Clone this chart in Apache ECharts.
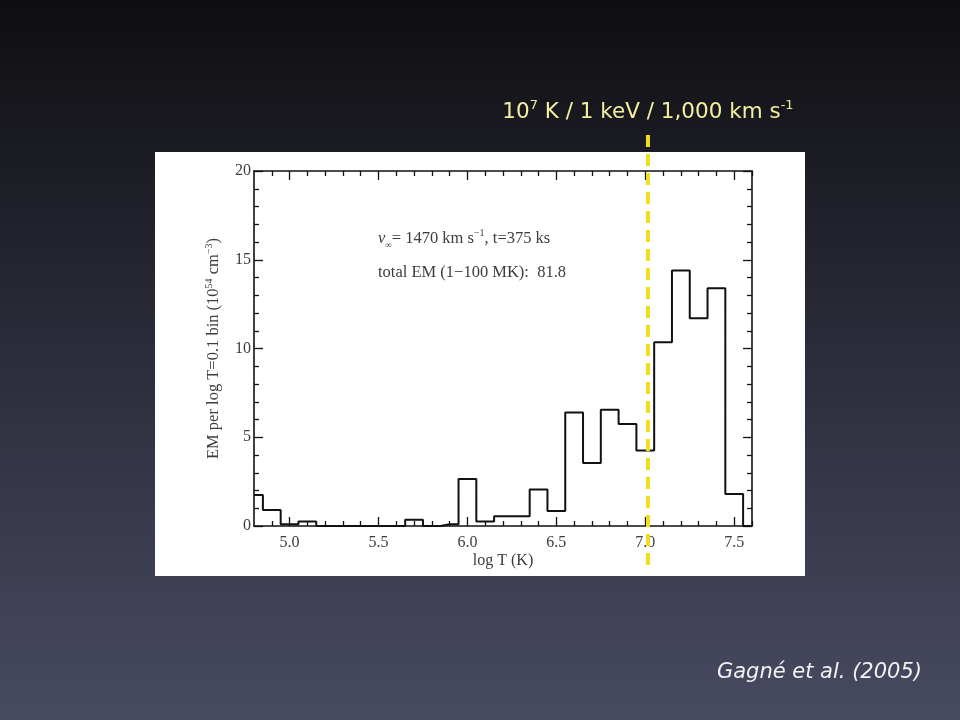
<!DOCTYPE html>
<html>
<head>
<meta charset="utf-8">
<script src="https://cdn.jsdelivr.net/npm/echarts@6/dist/echarts.min.js"></script>
<style>
html,body{margin:0;padding:0;background:#1c1c24;}
#chart{width:960px;height:720px;}
</style>
</head>
<body>
<div id="chart"></div>
<script>
// ---- data ----
const logT = [4.8,4.9,5.0,5.1,5.2,5.3,5.4,5.5,5.6,5.7,5.8,5.9,6.0,6.1,6.2,6.3,6.4,6.5,6.6,6.7,6.8,6.9,7.0,7.1,7.2,7.3,7.4,7.5,7.6];
const emValues = [1.75,0.9,0.1,0.25,0,0,0,0,0,0.35,0,0.1,2.65,0.25,0.55,0.55,2.05,0.85,6.4,3.55,6.55,5.75,4.25,10.35,14.4,11.7,13.4,1.8,0];
const xMajorTicks = [5.0,5.5,6.0,6.5,7.0,7.5];
const xMinorTicks = [4.9,5.1,5.2,5.3,5.4,5.6,5.7,5.8,5.9,6.1,6.2,6.3,6.4,6.6,6.7,6.8,6.9,7.1,7.2,7.3,7.4,7.6];
const markerLogT = 7.015;

const serif = '"Liberation Serif", "DejaVu Serif", serif';
const sans = '"DejaVu Sans", Verdana, sans-serif';
const txt = '#3c3c3c';
const chart = echarts.init(document.getElementById('chart'));

function xAx(pos, ticks, len, showLabel, showLine, extra) {
  return Object.assign({
    type: 'value', gridIndex: 0, position: pos, min: 4.8, max: 7.6,
    axisLine: {show: showLine, onZero: false, lineStyle: {color: '#111', width: 1.6}},
    axisTick: {show: true, inside: true, length: len, customValues: ticks, lineStyle: {color: '#111', width: 1.3}},
    axisLabel: showLabel ? {show: true, customValues: ticks, formatter: v => v.toFixed(1),
      fontFamily: serif, fontSize: 16, color: txt, margin: 9} : {show: false},
    splitLine: {show: false}
  }, extra || {});
}
function yAx(pos, showLabel, extra) {
  return Object.assign({
    type: 'value', position: pos, min: 0, max: 20, interval: 5,
    axisLine: {show: true, onZero: false, lineStyle: {color: '#111', width: 1.6}},
    axisTick: {show: true, inside: true, length: 9, lineStyle: {color: '#111', width: 1.3}},
    minorTick: {show: true, splitNumber: 5, length: 5, lineStyle: {color: '#111', width: 1.3}},
    axisLabel: showLabel ? {show: true, fontFamily: serif, fontSize: 16, color: txt, margin: 3} : {show: false},
    splitLine: {show: false}, minorSplitLine: {show: false}
  }, extra || {});
}

const option = {
  animation: false,
  backgroundColor: {
    type: 'linear', x: 0, y: 0, x2: 0, y2: 1,
    colorStops: [
      {offset: 0, color: '#0f0f12'},
      {offset: 0.06, color: '#121216'},
      {offset: 0.5, color: '#2c2d3b'},
      {offset: 1, color: '#484a62'}
    ]
  },
  grid: {left: 254, right: 208, top: 171, bottom: 194, containLabel: false},
  xAxis: [
    xAx('bottom', xMajorTicks, 9, true, true, {
      name: 'log T (K)', nameLocation: 'middle', nameGap: 27,
      nameTextStyle: {fontFamily: serif, fontSize: 16, color: txt}
    }),
    xAx('bottom', xMinorTicks, 5, false, false),
    xAx('top', xMajorTicks, 9, false, true),
    xAx('top', xMinorTicks, 5, false, false)
  ],
  yAxis: [
    yAx('left', true, {
      name: 'EM per log T=0.1 bin (10{sup|54} cm{sup|−3})', nameLocation: 'middle', nameGap: 28,
      nameTextStyle: {fontFamily: serif, fontSize: 16.5, color: txt, lineHeight: 20,
        rich: {sup: {fontFamily: serif, fontSize: 10, color: txt, verticalAlign: 'top', lineHeight: 20}}}
    }),
    yAx('right', false)
  ],
  series: [{
    type: 'line', xAxisIndex: 0, yAxisIndex: 0, step: 'middle', symbol: 'none',
    data: logT.map((t, i) => [t, emValues[i]]),
    lineStyle: {color: '#111', width: 2},
    z: 3
  }],
  graphic: [
    {type: 'rect', z: -10, shape: {x: 155, y: 152, width: 650, height: 424}, style: {fill: '#ffffff'}},
    {type: 'text', z: 20, left: 378, top: 228, style: {
      text: '{i|v}{sub|∞}= 1470 km s{sup|−1}, t=375 ks',
      font: '16.5px ' + serif, fill: txt, lineHeight: 22,
      rich: {
        i: {fontStyle: 'italic', fontFamily: serif, fontSize: 16.5, fill: txt, lineHeight: 22},
        sub: {fontFamily: serif, fontSize: 9, fill: txt, verticalAlign: 'bottom', lineHeight: 22},
        sup: {fontFamily: serif, fontSize: 10, fill: txt, verticalAlign: 'top', lineHeight: 22}
      }
    }},
    {type: 'text', z: 20, left: 378, top: 264, style: {
      text: 'total EM (1−100 MK):  81.8', font: '16.5px ' + serif, fill: txt
    }},
    {type: 'text', z: 20, right: 38, top: 662, style: {
      text: 'Gagné et al. (2005)', font: 'italic 21px ' + sans, fill: '#f2f2f2'
    }}
  ]
};
chart.setOption(option);

const xm = chart.convertToPixel({xAxisIndex: 0}, markerLogT);
chart.setOption({
  graphic: option.graphic.concat([
    {type: 'line', z: 30, shape: {x1: xm, y1: 135, x2: xm, y2: 572},
      style: {stroke: '#f0de1c', lineWidth: 4, lineDash: [12, 7]}},
    {type: 'text', z: 30, x: xm, y: 112, style: {
      text: '10{sup|7} K / 1 keV / 1,000 km s{sup|-1}',
      font: '21.5px ' + sans, fill: '#f3eea2',
      align: 'center', verticalAlign: 'middle', lineHeight: 26,
      rich: {sup: {fontFamily: sans, fontSize: 13, fill: '#f3eea2', verticalAlign: 'top', lineHeight: 26}}
    }}
  ])
});
</script>
</body>
</html>
